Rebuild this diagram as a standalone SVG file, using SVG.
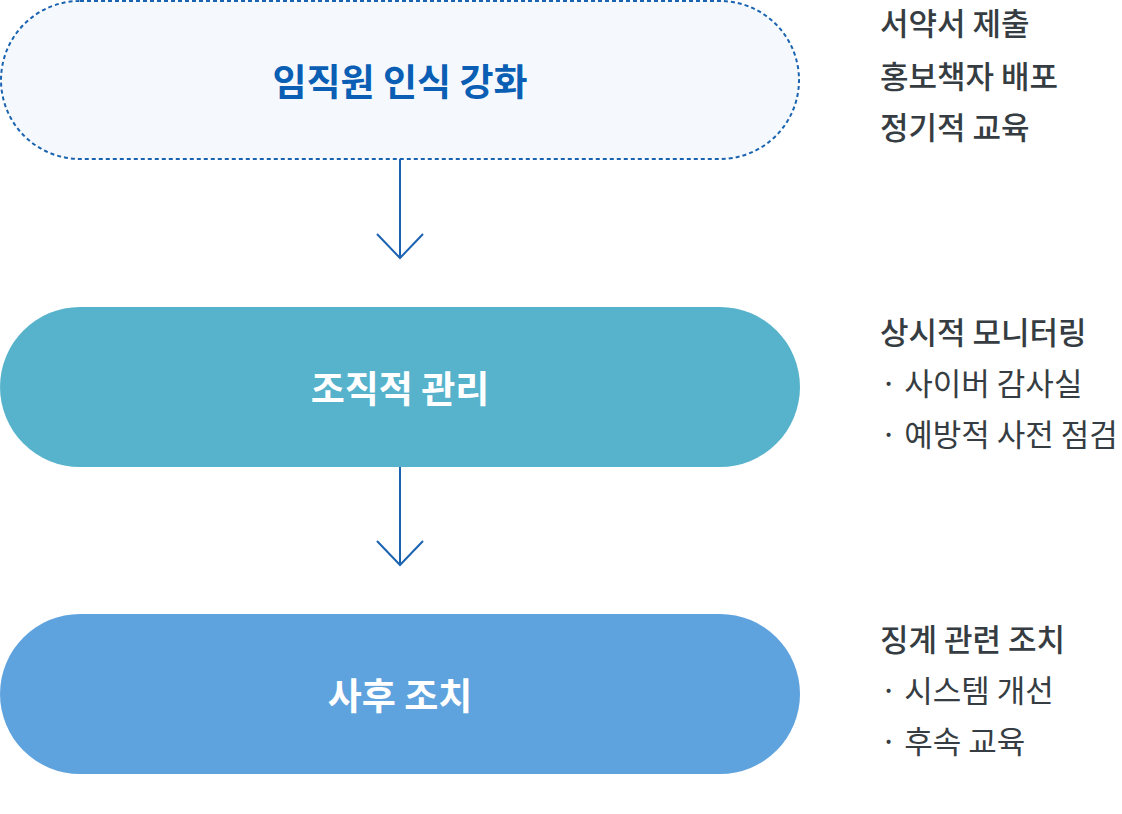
<svg xmlns="http://www.w3.org/2000/svg" width="1122" height="814" viewBox="0 0 1122 814">
<style>
.lbl{font-family:"Noto Sans CJK KR","Noto Sans",sans-serif;font-size:37px;font-weight:700;text-anchor:middle}
.side{font-family:"Noto Sans CJK KR","Noto Sans",sans-serif;font-size:31px;fill:#363d42;font-weight:400}
.b{font-weight:500}
.conn{stroke:#1a63b0;stroke-width:2;fill:none}
</style>
<rect width="1122" height="814" fill="#ffffff"/>
<g id="node-awareness">
<rect x="1" y="1" width="798" height="158" rx="79" fill="#f5f9fd" stroke="#1a63b0" stroke-width="2" stroke-dasharray="4 3"/>
<text class="lbl" x="400" y="96" fill="#0a5fb4">임직원 인식 강화</text>
</g>
<g id="node-management">
<rect x="0" y="307" width="800" height="160" rx="80" fill="#57b3cc"/>
<text class="lbl" x="400" y="403" fill="#ffffff">조직적 관리</text>
</g>
<g id="node-followup">
<rect x="0" y="614" width="800" height="160" rx="80" fill="#5fa3de"/>
<text class="lbl" x="400" y="710" fill="#ffffff">사후 조치</text>
</g>
<g id="connectors">
<path class="conn" d="M400 159V258M377 234L400 258L423 234"/>
<path class="conn" d="M400 467V565M377 541L400 565L423 541"/>
</g>
<g id="notes-1">
<text class="side b" x="880" y="35">서약서 제출</text>
<text class="side b" x="880" y="88">홍보책자 배포</text>
<text class="side b" x="880" y="139">정기적 교육</text>
</g>
<g id="notes-2">
<text class="side b" x="880" y="344">상시적 모니터링</text>
<text class="side" x="880" y="395">· 사이버 감사실</text>
<text class="side" x="880" y="446">· 예방적 사전 점검</text>
</g>
<g id="notes-3">
<text class="side b" x="880" y="651">징계 관련 조치</text>
<text class="side" x="880" y="702">· 시스템 개선</text>
<text class="side" x="880" y="753">· 후속 교육</text>
</g>
</svg>
